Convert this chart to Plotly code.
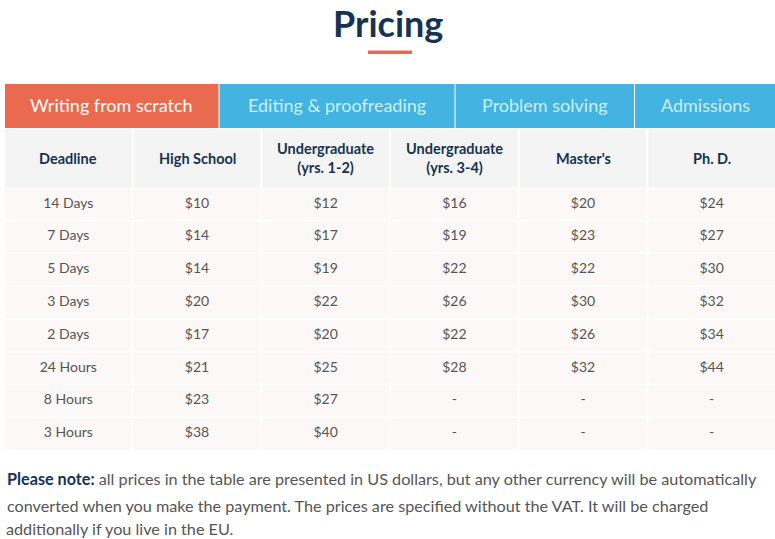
import plotly.graph_objects as go

# ---------------- data ----------------
title = "Pricing"
tabs = ["Writing from scratch", "Editing & proofreading", "Problem solving", "Admissions"]
headers = ["Deadline", "High School", "Undergraduate<br>(yrs. 1-2)",
           "Undergraduate<br>(yrs. 3-4)", "Master's", "Ph. D."]
deadlines = ["14 Days", "7 Days", "5 Days", "3 Days", "2 Days", "24 Hours", "8 Hours", "3 Hours"]
high_school = [10, 14, 14, 20, 17, 21, 23, 38]
undergrad_1_2 = [12, 17, 19, 22, 20, 25, 27, 40]
undergrad_3_4 = [16, 19, 22, 26, 22, 28, None, None]
masters = [20, 23, 22, 30, 26, 32, None, None]
phd = [24, 27, 30, 32, 34, 44, None, None]
note_bold = "Please note:"
note_lines = [
    " all prices in the table are presented in US dollars, but any other currency will be automatically",
    "converted when you make the payment. The prices are specified without the VAT. It will be charged",
    "additionally if you live in the EU.",
]

# ---------------- style / layout ----------------
W, H = 775, 539
FONT = "Lato"
NAVY = "#163352"
GRAY = "#555555"
ORANGE = "#EA6A50"
BLUE = "#43B3E1"
TAB_TEXT_INACTIVE = "#C9F1FC"
HEADER_BG = "#F4F4F5"
ROW_BG = "#FCF8F7"

left, right = 5, 775
ncols = 6
gap = 2
col_w = (right - left - gap * (ncols - 1)) / ncols
header_top, header_h = 128.5, 59
row_top = header_top + header_h + 1
row_h = 32.8
tab_top, tab_bot = 84, 128
tab_edges = [5, 218.5, 454.5, 634, 775]

shapes = []
annotations = []

# underline
shapes.append(dict(type="rect", x0=368, x1=412, y0=50.5, y1=54, fillcolor=ORANGE, line_width=0, layer="below"))

# tabs
for i, t in enumerate(tabs):
    x0, x1 = tab_edges[i], tab_edges[i + 1]
    if i > 0:
        x0 += 1
    shapes.append(dict(type="rect", x0=x0, x1=x1, y0=tab_top, y1=tab_bot,
                       fillcolor=ORANGE if i == 0 else BLUE, line_width=0, layer="below"))
    annotations.append(dict(x=(x0 + x1) / 2, y=(tab_top + tab_bot) / 2 - 1, text=t, showarrow=False,
                            font=dict(family=FONT, size=18, color="white" if i == 0 else TAB_TEXT_INACTIVE),
                            xanchor="center", yanchor="middle"))

col_left = [left + c * (col_w + gap) for c in range(ncols)]
col_center = [x + col_w / 2 for x in col_left]

# header cells
for c in range(ncols):
    shapes.append(dict(type="rect", x0=col_left[c], x1=col_left[c] + col_w, y0=header_top, y1=header_top + header_h,
                       fillcolor=HEADER_BG, line_width=0, layer="below"))
    annotations.append(dict(x=col_center[c], y=header_top + header_h / 2, text="<b>" + headers[c] + "</b>",
                            showarrow=False, font=dict(family=FONT, size=14.5, color=NAVY),
                            xanchor="center", yanchor="middle"))

# body cells
columns = [deadlines, high_school, undergrad_1_2, undergrad_3_4, masters, phd]
for r in range(len(deadlines)):
    y0 = row_top + r * row_h
    for c in range(ncols):
        shapes.append(dict(type="rect", x0=col_left[c], x1=col_left[c] + col_w, y0=y0, y1=y0 + row_h - 1.5,
                           fillcolor=ROW_BG, line_width=0, layer="below"))

def fmt(v):
    if isinstance(v, str):
        return v
    return "-" if v is None else f"${v}"

fig = go.Figure()
for c, col in enumerate(columns):
    fig.add_trace(go.Scatter(
        x=[col_center[c]] * len(col),
        y=[row_top + r * row_h + (row_h - 1.5) / 2 for r in range(len(col))],
        text=[fmt(v) for v in col], mode="text",
        textfont=dict(family=FONT, size=14, color=GRAY),
        textposition="middle center", hoverinfo="skip", showlegend=False))

# title
annotations.append(dict(x=W / 2, y=0, text="<b>" + title + "</b>", showarrow=False, borderpad=0,
                        font=dict(family=FONT, size=36, color=NAVY), xanchor="center", yanchor="top"))

# footnote
line_y = [478, 505]
for i, line in enumerate(note_lines):
    txt = (f"<b><span style='color:{NAVY}'>{note_bold}</span></b>" if i == 0 else "") + line
    if i < 2:
        annotations.append(dict(x=5, y=line_y[i], text=txt, showarrow=False,
                                font=dict(family=FONT, size=16.2, color=GRAY),
                                xanchor="left", yanchor="middle"))
    else:
        annotations.append(dict(x=5, y=H, text=txt, showarrow=False, borderpad=0,
                                font=dict(family=FONT, size=16.2, color=GRAY),
                                xanchor="left", yanchor="bottom"))

fig.update_layout(
    width=W, height=H, margin=dict(l=0, r=0, t=0, b=0),
    paper_bgcolor="white", plot_bgcolor="white",
    xaxis=dict(range=[0, W], visible=False, fixedrange=True),
    yaxis=dict(range=[H, 0], visible=False, fixedrange=True),
    shapes=shapes, annotations=annotations, showlegend=False,
)
fig.write_html("out.html", config={"displayModeBar": False},
               post_script="document.body.style.margin='0';document.body.style.overflow='hidden';")
